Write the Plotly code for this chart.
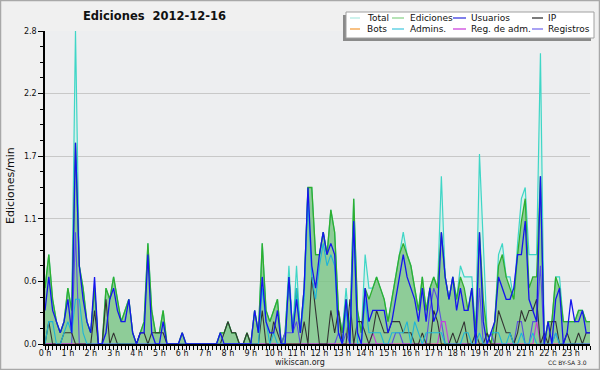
import plotly.graph_objects as go

# ---------------- data (edits per minute, 10-minute bins, one row per hour) ----------------
hour_labels = ["0 h", "1 h", "2 h", "3 h", "4 h", "5 h", "6 h", "7 h", "8 h", "9 h", "10 h", "11 h",
               "12 h", "13 h", "14 h", "15 h", "16 h", "17 h", "18 h", "19 h", "20 h", "21 h", "22 h", "23 h"]

total = [
    0.5, 0.8, 0.4, 0.2, 0.1, 0.2,
    0.5, 0.3, 2.8, 0.7, 0.5, 0.2,
    0.1, 0.5, 0.0, 0.0, 0.5, 0.4,
    0.6, 0.4, 0.2, 0.3, 0.4, 0.1,
    0.0, 0.1, 0.2, 0.9, 0.3, 0.1,
    0.1, 0.3, 0.0, 0.0, 0.0, 0.0,
    0.1, 0.0, 0.0, 0.0, 0.0, 0.0,
    0.0, 0.0, 0.0, 0.0, 0.1, 0.1,
    0.2, 0.1, 0.1, 0.0, 0.0, 0.1,
    0.0, 0.3, 0.1, 0.9, 0.3, 0.2,
    0.3, 0.4, 0.0, 0.1, 0.7, 0.1,
    0.7, 0.1, 0.5, 1.4, 1.4, 0.8,
    0.8, 1.0, 0.8, 1.2, 1.0, 0.3,
    0.1, 0.5, 0.1, 1.3, 0.3, 0.1,
    0.8, 0.5, 0.5, 0.6, 0.5, 0.4,
    0.2, 0.4, 0.6, 0.8, 1.0, 0.8,
    0.7, 0.5, 0.3, 0.6, 0.3, 0.5,
    0.6, 0.5, 1.5, 0.6, 0.4, 0.6,
    0.4, 0.7, 0.6, 0.6, 0.6, 0.1,
    1.7, 0.9, 0.1, 0.0, 0.2, 0.8,
    0.9, 0.6, 0.6, 0.4, 0.9, 1.3,
    1.4, 0.8, 0.8, 0.8, 2.6, 0.0,
    0.2, 0.2, 0.6, 0.6, 0.2, 0.2,
    0.2, 0.2, 0.3, 0.3, 0.2, 0.2,
]

ediciones = [
    0.5, 0.8, 0.4, 0.2, 0.1, 0.2,
    0.5, 0.3, 1.8, 0.7, 0.5, 0.2,
    0.1, 0.5, 0.0, 0.0, 0.5, 0.4,
    0.6, 0.4, 0.2, 0.3, 0.4, 0.1,
    0.0, 0.1, 0.2, 0.9, 0.3, 0.1,
    0.1, 0.3, 0.0, 0.0, 0.0, 0.0,
    0.1, 0.0, 0.0, 0.0, 0.0, 0.0,
    0.0, 0.0, 0.0, 0.0, 0.1, 0.1,
    0.2, 0.1, 0.1, 0.0, 0.0, 0.1,
    0.0, 0.3, 0.1, 0.9, 0.3, 0.2,
    0.3, 0.4, 0.0, 0.1, 0.6, 0.1,
    0.5, 0.1, 0.5, 1.4, 1.4, 0.8,
    0.8, 1.0, 0.8, 1.2, 1.0, 0.3,
    0.1, 0.4, 0.1, 1.3, 0.3, 0.1,
    0.5, 0.4, 0.5, 0.6, 0.5, 0.4,
    0.2, 0.4, 0.6, 0.8, 0.9, 0.8,
    0.7, 0.5, 0.3, 0.6, 0.3, 0.5,
    0.6, 0.5, 1.0, 0.6, 0.4, 0.6,
    0.4, 0.6, 0.5, 0.3, 0.5, 0.1,
    1.0, 0.4, 0.1, 0.0, 0.2, 0.7,
    0.8, 0.6, 0.5, 0.4, 0.8, 1.1,
    1.3, 0.5, 0.6, 0.6, 1.5, 0.0,
    0.2, 0.2, 0.6, 0.5, 0.2, 0.2,
    0.2, 0.2, 0.3, 0.3, 0.2, 0.2,
]

usuarios = [
    0.3, 0.6, 0.3, 0.2, 0.1, 0.2,
    0.4, 0.1, 1.8, 0.7, 0.4, 0.2,
    0.1, 0.6, 0.0, 0.0, 0.1, 0.4,
    0.5, 0.3, 0.2, 0.2, 0.4, 0.1,
    0.0, 0.1, 0.1, 0.8, 0.1, 0.0,
    0.0, 0.2, 0.0, 0.0, 0.0, 0.0,
    0.1, 0.0, 0.0, 0.0, 0.0, 0.0,
    0.0, 0.0, 0.0, 0.0, 0.1, 0.0,
    0.0, 0.0, 0.0, 0.0, 0.0, 0.0,
    0.0, 0.3, 0.1, 0.6, 0.2, 0.1,
    0.1, 0.3, 0.0, 0.0, 0.6, 0.1,
    0.4, 0.1, 0.5, 1.4, 0.7, 0.5,
    0.8, 1.0, 0.8, 0.9, 0.8, 0.1,
    0.0, 0.4, 0.0, 1.1, 0.1, 0.0,
    0.5, 0.2, 0.3, 0.3, 0.3, 0.3,
    0.1, 0.2, 0.4, 0.6, 0.8, 0.6,
    0.5, 0.4, 0.2, 0.5, 0.2, 0.5,
    0.2, 0.3, 1.0, 0.6, 0.4, 0.6,
    0.3, 0.5, 0.3, 0.3, 0.5, 0.0,
    1.0, 0.2, 0.0, 0.1, 0.2, 0.6,
    0.5, 0.4, 0.4, 0.5, 0.8, 0.8,
    1.1, 0.4, 0.3, 0.2, 1.5, 0.0,
    0.2, 0.0, 0.4, 0.5, 0.0, 0.1,
    0.4, 0.2, 0.2, 0.3, 0.1, 0.1,
]

ip = [
    0.0, 0.2, 0.0, 0.0, 0.0, 0.1,
    0.1, 0.1, 0.0, 0.0, 0.0, 0.0,
    0.0, 0.3, 0.0, 0.0, 0.4, 0.0,
    0.1, 0.0, 0.0, 0.0, 0.0, 0.0,
    0.0, 0.1, 0.1, 0.0, 0.1, 0.1,
    0.1, 0.1, 0.0, 0.0, 0.0, 0.0,
    0.0, 0.0, 0.0, 0.0, 0.0, 0.0,
    0.0, 0.0, 0.0, 0.0, 0.0, 0.1,
    0.2, 0.1, 0.1, 0.0, 0.0, 0.1,
    0.0, 0.0, 0.0, 0.3, 0.0, 0.0,
    0.2, 0.1, 0.0, 0.0, 0.0, 0.0,
    0.0, 0.0, 0.2, 0.0, 0.6, 0.3,
    0.0, 0.0, 0.0, 0.3, 0.1, 0.3,
    0.0, 0.0, 0.4, 0.0, 0.2, 0.2,
    0.1, 0.0, 0.1, 0.3, 0.2, 0.1,
    0.1, 0.2, 0.2, 0.2, 0.1, 0.1,
    0.1, 0.0, 0.0, 0.1, 0.0, 0.0,
    0.3, 0.2, 0.0, 0.0, 0.0, 0.1,
    0.0, 0.1, 0.2, 0.0, 0.0, 0.1,
    0.0, 0.0, 0.1, 0.0, 0.0, 0.3,
    0.2, 0.1, 0.1, 0.0, 0.1, 0.3,
    0.2, 0.3, 0.3, 0.4, 0.0, 0.1,
    0.0, 0.2, 0.2, 0.0, 0.0, 0.1,
    0.0, 0.0, 0.1, 0.0, 0.1, 0.1,
]

bots = [
    0.0, 0.0, 0.0, 0.0, 0.0, 0.0,  0.0, 0.0, 0.0, 0.0, 0.0, 0.0,
    0.0, 0.0, 0.0, 0.0, 0.0, 0.0,  0.0, 0.0, 0.0, 0.0, 0.0, 0.0,
    0.0, 0.0, 0.0, 0.0, 0.0, 0.0,  0.0, 0.0, 0.0, 0.0, 0.0, 0.0,
    0.0, 0.0, 0.0, 0.0, 0.0, 0.0,  0.0, 0.0, 0.0, 0.0, 0.0, 0.0,
    0.0, 0.0, 0.0, 0.0, 0.0, 0.0,  0.0, 0.0, 0.0, 0.0, 0.0, 0.0,
    0.0, 0.0, 0.0, 0.0, 0.0, 0.0,  0.0, 0.0, 0.0, 0.0, 0.0, 0.0,
    0.0, 0.0, 0.0, 0.0, 0.0, 0.0,  0.0, 0.0, 0.0, 0.0, 0.0, 0.0,
    0.0, 0.0, 0.0, 0.0, 0.0, 0.0,  0.0, 0.0, 0.0, 0.0, 0.0, 0.0,
    0.0, 0.0, 0.0, 0.0, 0.0, 0.0,  0.0, 0.0, 0.0, 0.0, 0.0, 0.0,
    0.0, 0.0, 0.0, 0.0, 0.0, 0.0,  0.0, 0.0, 0.0, 0.0, 0.0, 0.0,
    0.0, 0.0, 0.0, 0.0, 0.0, 0.0,  0.0, 0.0, 0.0, 0.0, 0.0, 0.0,
    0.0, 0.0, 0.0, 0.0, 0.0, 0.0,  0.0, 0.0, 0.0, 0.0, 0.0, 0.0,
]

admins = [
    0.0, 0.2, 0.2, 0.0, 0.0, 0.1,
    0.2, 0.1, 0.4, 0.4, 0.1, 0.0,
    0.0, 0.0, 0.0, 0.0, 0.0, 0.0,
    0.0, 0.0, 0.0, 0.0, 0.0, 0.0,
    0.0, 0.0, 0.0, 0.0, 0.0, 0.0,
    0.0, 0.0, 0.0, 0.0, 0.0, 0.0,
    0.0, 0.0, 0.0, 0.0, 0.0, 0.0,
    0.0, 0.0, 0.0, 0.0, 0.0, 0.0,
    0.0, 0.0, 0.0, 0.0, 0.0, 0.0,
    0.0, 0.0, 0.0, 0.5, 0.2, 0.0,
    0.1, 0.0, 0.0, 0.0, 0.6, 0.1,
    0.5, 0.1, 0.4, 1.3, 0.6, 0.4,
    0.7, 0.9, 0.7, 0.8, 0.7, 0.1,
    0.0, 0.3, 0.0, 1.1, 0.0, 0.0,
    0.4, 0.1, 0.1, 0.1, 0.1, 0.0,
    0.0, 0.1, 0.1, 0.1, 0.1, 0.2,
    0.0, 0.2, 0.1, 0.0, 0.1, 0.1,
    0.1, 0.1, 0.1, 0.0, 0.0, 0.0,
    0.0, 0.0, 0.1, 0.1, 0.0, 0.0,
    0.1, 0.0, 0.0, 0.1, 0.1, 0.1,
    0.0, 0.0, 0.1, 0.0, 0.0, 0.1,
    0.0, 0.0, 0.1, 0.0, 0.0, 0.0,
    0.0, 0.0, 0.1, 0.0, 0.0, 0.0,
    0.0, 0.0, 0.0, 0.0, 0.0, 0.0,
]

reg_adm = [
    0.0, 0.0, 0.0, 0.0, 0.0, 0.0,  0.0, 0.0, 0.0, 0.0, 0.0, 0.0,
    0.0, 0.0, 0.0, 0.0, 0.0, 0.0,  0.0, 0.0, 0.0, 0.0, 0.0, 0.0,
    0.0, 0.0, 0.0, 0.0, 0.0, 0.0,  0.0, 0.0, 0.0, 0.0, 0.0, 0.0,
    0.0, 0.0, 0.0, 0.0, 0.0, 0.0,  0.0, 0.0, 0.0, 0.0, 0.0, 0.0,
    0.0, 0.0, 0.0, 0.0, 0.0, 0.0,  0.0, 0.0, 0.0, 0.0, 0.0, 0.0,
    0.0, 0.0, 0.0, 0.0, 0.0, 0.0,  0.0, 0.0, 0.0, 0.0, 0.0, 0.0,
    0.0, 0.0, 0.0, 0.0, 0.0, 0.0,  0.0, 0.0, 0.0, 0.0, 0.0, 0.0,
    0.0, 0.0, 0.1, 0.0, 0.0, 0.0,  0.0, 0.0, 0.0, 0.0, 0.0, 0.0,
    0.0, 0.0, 0.0, 0.0, 0.0, 0.0,  0.0, 0.0, 0.2, 0.2, 0.0, 0.0,
    0.0, 0.0, 0.0, 0.0, 0.0, 0.0,  0.0, 0.0, 0.0, 0.0, 0.0, 0.0,
    0.0, 0.0, 0.0, 0.0, 0.0, 0.0,  0.0, 0.0, 0.0, 0.2, 0.0, 0.0,
    0.0, 0.0, 0.0, 0.0, 0.0, 0.0,  0.0, 0.0, 0.0, 0.0, 0.0, 0.0,
]

registros = [
    0.0, 0.0, 0.0, 0.0, 0.0, 0.0,  0.0, 0.0, 1.0, 0.0, 0.0, 0.0,
    0.0, 0.0, 0.0, 0.0, 0.0, 0.0,  0.0, 0.0, 0.0, 0.0, 0.0, 0.0,
    0.0, 0.0, 0.0, 0.0, 0.0, 0.0,  0.0, 0.0, 0.0, 0.0, 0.0, 0.0,
    0.0, 0.0, 0.0, 0.0, 0.0, 0.0,  0.0, 0.0, 0.0, 0.0, 0.0, 0.0,
    0.0, 0.0, 0.0, 0.0, 0.0, 0.0,  0.0, 0.0, 0.0, 0.0, 0.0, 0.0,
    0.0, 0.0, 0.0, 0.1, 0.1, 0.1,  0.2, 0.0, 0.0, 0.0, 0.0, 0.0,
    0.0, 0.0, 0.0, 0.0, 0.0, 0.1,  0.0, 0.1, 0.0, 0.0, 0.0, 0.0,
    0.0, 0.0, 0.0, 0.0, 0.0, 0.0,  0.0, 0.0, 0.1, 0.1, 0.0, 0.0,
    0.0, 0.0, 0.0, 0.0, 0.0, 0.3,  0.5, 0.4, 0.2, 0.0, 0.0, 0.0,
    0.0, 0.0, 0.0, 0.0, 0.0, 0.0,  0.5, 0.0, 0.0, 0.1, 0.0, 0.0,
    0.0, 0.0, 0.0, 0.0, 0.2, 0.2,  0.0, 0.0, 0.2, 0.2, 0.7, 0.0,
    0.0, 0.0, 0.1, 0.0, 0.0, 0.0,  0.0, 0.0, 0.0, 0.0, 0.0, 0.0,
]

# time of each 10-minute bin, in minutes since midnight
minutes = list(range(0, 1440, 10))
hour_ticks = list(range(0, 1440, 60))

y_tickvals = [0.0, 0.56, 1.12, 1.68, 2.24, 2.8]
y_ticktext = ["0.0", "0.6", "1.1", "1.7", "2.2", "2.8"]

# ---------------- layout geometry (pixels) ----------------
W, H = 600, 370
ML, MR, MT, MB = 45, 10, 31, 26
PW, PH = W - ML - MR, H - MT - MB
FONT = "DejaVu Sans"


def px(x):
    return (x - ML) / PW


def py(y):
    return (H - MB - y) / PH


fig = go.Figure()

fig.add_trace(go.Scatter(x=minutes, y=total, mode="lines", name="Total",
                         line=dict(color="#3fd6c6", width=1.2),
                         fill="tozeroy", fillcolor="rgba(200,240,232,0.6)"))
fig.add_trace(go.Scatter(x=minutes, y=ediciones, mode="lines", name="Ediciones",
                         line=dict(color="#2fae2f", width=1.3),
                         fill="tozeroy", fillcolor="rgba(70,170,70,0.5)"))
fig.add_trace(go.Scatter(x=minutes, y=bots, mode="lines", name="Bots",
                         line=dict(color="#f59a2e", width=1)))
fig.add_trace(go.Scatter(x=minutes, y=registros, mode="lines", name="Registros",
                         line=dict(color="#5b4fe0", width=1.1)))
fig.add_trace(go.Scatter(x=minutes, y=reg_adm, mode="lines", name="Reg. de adm.",
                         line=dict(color="#c83adf", width=1.1)))
fig.add_trace(go.Scatter(x=minutes, y=ip, mode="lines", name="IP",
                         line=dict(color="#333333", width=1.1)))
fig.add_trace(go.Scatter(x=minutes, y=admins, mode="lines", name="Admins.",
                         line=dict(color="#1fb4d8", width=1.1)))
fig.add_trace(go.Scatter(x=minutes, y=usuarios, mode="lines", name="Usuarios",
                         line=dict(color="#1515ee", width=1.3)))

# ---------------- manual legend (4 columns x 2 rows) ----------------
legend_rows = [
    [("Total", "#b2ebe3"), ("Ediciones", "#8fd48f"), ("Usuarios", "#3a3ae0"), ("IP", "#333333")],
    [("Bots", "#f5a040"), ("Admins.", "#4ccbe0"), ("Reg. de adm.", "#cc44dd"), ("Registros", "#7a70ee")],
]
col_line = [(350, 360), (392, 404), (453, 466), (532, 543)]
col_text = [365, 408, 469, 546]
row_y = [18, 29]

shapes = [
    # outer border of the picture
    dict(type="rect", xref="paper", yref="paper", x0=px(0.5), x1=px(W - 0.5), y0=py(H - 0.5), y1=py(0.5),
         line=dict(color="#a8a8a8", width=1.5), layer="above"),
    # legend shadow and box
    dict(type="rect", xref="paper", yref="paper", x0=px(343), x1=px(591), y0=py(41), y1=py(15),
         fillcolor="#8a8a8a", line=dict(width=0), layer="above"),
    dict(type="rect", xref="paper", yref="paper", x0=px(346), x1=px(594), y0=py(38), y1=py(12),
         fillcolor="#ffffff", line=dict(color="#a0a0a0", width=1), layer="above"),
]
annotations = []
for r, row in enumerate(legend_rows):
    for c, (label, color) in enumerate(row):
        x0, x1 = col_line[c]
        shapes.append(dict(type="line", xref="paper", yref="paper", x0=px(x0), x1=px(x1),
                           y0=py(row_y[r]), y1=py(row_y[r]), line=dict(color=color, width=1.3),
                           layer="above"))
        annotations.append(dict(text=label, xref="paper", yref="paper", x=px(col_text[c]), y=py(row_y[r]),
                                xanchor="left", yanchor="middle", showarrow=False,
                                font=dict(family=FONT, size=9, color="#111111")))

annotations += [
    dict(text="<b>Ediciones\u00a0\u00a02012-12-16</b>", xref="paper", yref="paper", x=px(154), y=py(16.5),
         xanchor="center", yanchor="middle", showarrow=False,
         font=dict(family=FONT, size=11.5, color="#111111")),
    dict(text="Ediciones/min", xref="paper", yref="paper", x=px(10), y=py(186), textangle=-90,
         xanchor="center", yanchor="middle", showarrow=False,
         font=dict(family=FONT, size=11, color="#111111")),
    dict(text="wikiscan.org", xref="paper", yref="paper", x=px(300), y=py(362.5),
         xanchor="center", yanchor="middle", showarrow=False,
         font=dict(family=FONT, size=8, color="#222222")),
    dict(text="CC BY-SA 3.0", xref="paper", yref="paper", x=px(589), y=py(362.5),
         xanchor="right", yanchor="middle", showarrow=False,
         font=dict(family=FONT, size=6, color="#222222")),
]

fig.update_layout(
    width=W, height=H,
    margin=dict(l=ML, r=MR, t=MT, b=MB, pad=0),
    paper_bgcolor="#f0f0f0",
    plot_bgcolor="#edeef0",
    showlegend=False,
    font=dict(family=FONT, size=8, color="#111111"),
    shapes=shapes,
    annotations=annotations,
    xaxis=dict(range=[0, 1430], tickvals=hour_ticks, ticktext=hour_labels,
               ticks="outside", ticklen=4, tickwidth=1, tickcolor="#000000",
               ticklabelstandoff=-4,
               showline=True, linecolor="#000000", linewidth=2,
               showgrid=False, zeroline=False,
               tickfont=dict(family=FONT, size=8, color="#111111"),
               minor=dict(dtick=10, tick0=0, ticks="outside", ticklen=4, tickwidth=1,
                          tickcolor="#000000", showgrid=False)),
    yaxis=dict(range=[0, 2.8], tickvals=y_tickvals, ticktext=y_ticktext,
               ticks="outside", ticklen=5, tickwidth=1, tickcolor="#000000",
               showline=True, linecolor="#000000", linewidth=1.5,
               showgrid=True, gridcolor="#c8c8c8", gridwidth=1, zeroline=False,
               tickfont=dict(family=FONT, size=8, color="#111111"),
               minor=dict(dtick=0.14, tick0=0, ticks="outside", ticklen=3, tickwidth=1,
                          tickcolor="#000000", showgrid=False)),
)

fig.write_html("out.html", config={"displayModeBar": False},
               post_script="document.body.style.margin='0';")
